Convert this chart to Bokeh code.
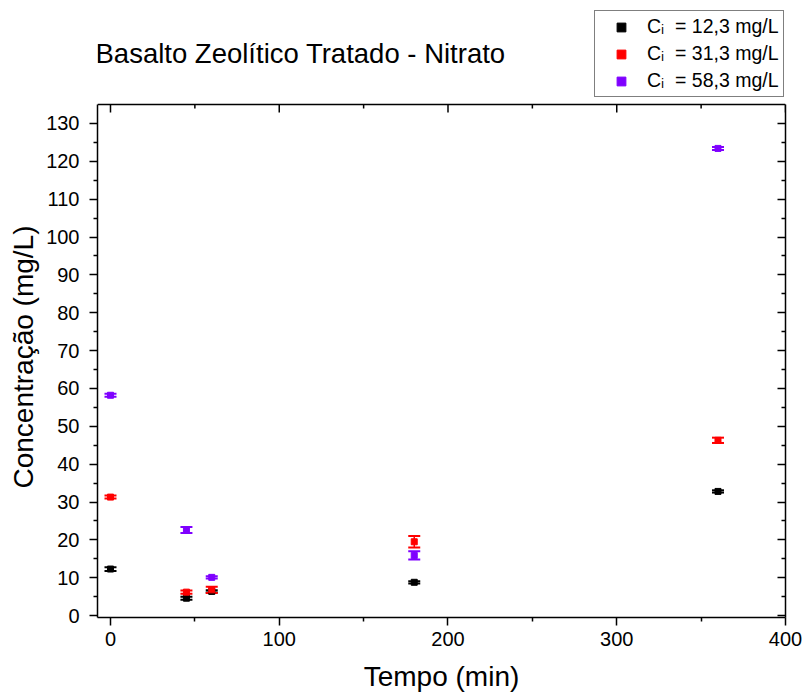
import math
from bokeh.plotting import figure
from bokeh.models import (ColumnDataSource, Whisker, TeeHead, FixedTicker, LinearAxis,
                          Legend, LegendItem, Range1d, Span, Label, Title)
from bokeh.embed import file_html
from bokeh.resources import INLINE

# ---- data ----
tempo = [0, 45, 60, 180, 360]
conc_12 = [12.3, 4.6, 6.4, 8.8, 32.8]
err_12 = [0.5, 0.4, 0.3, 0.3, 0.3]
conc_31 = [31.3, 6.2, 6.8, 19.5, 46.3]
err_31 = [0.4, 0.4, 0.8, 1.5, 0.7]
conc_58 = [58.2, 22.6, 10.1, 15.9, 123.4]
err_58 = [0.4, 0.8, 0.3, 1.1, 0.4]
series_labels = ["Cᵢ\u00a0 = 12,3 mg/L", "Cᵢ\u00a0 = 31,3 mg/L", "Cᵢ\u00a0 = 58,3 mg/L"]
series_colors = ["#000000", "#FF0000", "#7F00FF"]
x_ticks = [0, 100, 200, 300, 400]
x_minor = [50, 150, 250, 350]
y_ticks = list(range(0, 131, 10))
y_minor = list(range(5, 131, 10))
title_text = "Basalto Zeolítico Tratado - Nitrato"
x_label = "Tempo (min)"
y_label = "Concentração (mg/L)"

FONT = "Liberation Sans"

# layout (pixels)
W, H = 804, 695
F_LEFT, F_RIGHT, F_TOP, F_BOTTOM = 97, 785, 104, 617   # visible axes box
X_LO, X_HI = -7.7, 400
Y_LO, Y_HI = -0.5, 135
px_per_y = (F_BOTTOM - F_TOP) / (Y_HI - Y_LO)
Y_CANVAS_TOP = Y_HI + F_TOP / px_per_y   # frame extends to canvas top (legend/title live there)

p = figure(width=W, height=H, output_backend="svg", toolbar_location=None,
           x_range=Range1d(X_LO, X_HI), y_range=Range1d(Y_LO, Y_CANVAS_TOP),
           min_border_left=F_LEFT, min_border_right=W - F_RIGHT,
           min_border_top=0, min_border_bottom=H - F_BOTTOM)
p.grid.visible = False
p.outline_line_color = None
p.background_fill_color = "white"
p.border_fill_color = "white"

def style_axis(ax, labels=True, inward=False):
    ax.axis_line_color = "black"
    ax.axis_line_width = 1.5
    ax.major_tick_line_color = "black"
    ax.major_tick_line_width = 1.5
    ax.minor_tick_line_color = "black"
    ax.minor_tick_line_width = 1.5
    if inward:
        ax.major_tick_in, ax.major_tick_out = 8, 0
        ax.minor_tick_in, ax.minor_tick_out = 4, 0
    else:
        ax.major_tick_in, ax.major_tick_out = 0, 8
        ax.minor_tick_in, ax.minor_tick_out = 0, 4
    if labels:
        ax.major_label_text_font = FONT
        ax.major_label_text_font_size = "20px"
        ax.major_label_text_color = "black"
        ax.axis_label_text_font = FONT
        ax.axis_label_text_font_size = "28px"
        ax.axis_label_text_font_style = "normal"
        ax.axis_label_text_color = "black"
    else:
        ax.major_label_text_font_size = "1px"
        ax.major_label_text_color = None
        ax.major_label_standoff = 0
        ax.axis_label = None

p.xaxis.ticker = FixedTicker(ticks=x_ticks, minor_ticks=x_minor)
p.yaxis.ticker = FixedTicker(ticks=y_ticks, minor_ticks=y_minor)
p.yaxis.bounds = (Y_LO, Y_HI)
p.xaxis.axis_label = x_label
style_axis(p.xaxis[0])
style_axis(p.yaxis[0])
p.yaxis.axis_label = None
p.xaxis.major_label_standoff = 6
p.xaxis.axis_label_standoff = 12
p.yaxis.major_label_standoff = 10

# y axis title centred on the visible axes box (not on the extended frame)
ytitle = Title(text=y_label, align="left", offset=F_BOTTOM - 488, standoff=10,
               text_font=FONT, text_font_size="28px", text_font_style="normal",
               text_color="black")
p.add_layout(ytitle, "left")

right_ax = LinearAxis(ticker=FixedTicker(ticks=y_ticks, minor_ticks=y_minor), bounds=(Y_LO, Y_HI))
style_axis(right_ax, labels=False, inward=True)
p.add_layout(right_ax, "right")

# top edge of the axes box with inward ticks
p.add_layout(Span(location=Y_HI, dimension="width", line_color="black", line_width=1.5))
p.ray(x=x_ticks, y=[Y_HI] * len(x_ticks), length=8, length_units="screen",
      angle=-math.pi / 2, line_color="black", line_width=1.5)
p.ray(x=x_minor, y=[Y_HI] * len(x_minor), length=4, length_units="screen",
      angle=-math.pi / 2, line_color="black", line_width=1.5)

items = []
for vals, errs, col, lab in zip([conc_12, conc_31, conc_58], [err_12, err_31, err_58],
                                series_colors, series_labels):
    src = ColumnDataSource(dict(x=tempo, y=vals,
                                lower=[v - e for v, e in zip(vals, errs)],
                                upper=[v + e for v, e in zip(vals, errs)]))
    w = Whisker(source=src, base="x", lower="lower", upper="upper",
                line_color=col, line_width=1.5,
                upper_head=TeeHead(size=12, line_color=col, line_width=2),
                lower_head=TeeHead(size=12, line_color=col, line_width=2))
    p.add_layout(w)
    r = p.scatter("x", "y", source=src, marker="square", size=6,
                  fill_color=col, line_color=col)
    items.append(LegendItem(label=lab, renderers=[r]))

# title (inside the extended frame, above the axes box)
p.add_layout(Label(x=-2, y=F_BOTTOM - 53, x_units="screen", y_units="screen",
                   text=title_text, text_font=FONT, text_font_size="27.5px",
                   text_color="black", text_align="left", text_baseline="middle"))

legend = Legend(items=items, location=(594 - F_LEFT, F_BOTTOM - 97))
legend.label_text_font = FONT
legend.label_text_font_size = "19.5px"
legend.label_text_color = "black"
legend.border_line_color = "black"
legend.border_line_width = 1
legend.background_fill_color = "white"
legend.background_fill_alpha = 1
legend.padding = 4
legend.spacing = 4
legend.label_height = 22
legend.glyph_height = 22
legend.glyph_width = 44
legend.label_standoff = 4
legend.margin = 0
p.add_layout(legend, "center")

open("out.html", "w").write(file_html(p, INLINE))
